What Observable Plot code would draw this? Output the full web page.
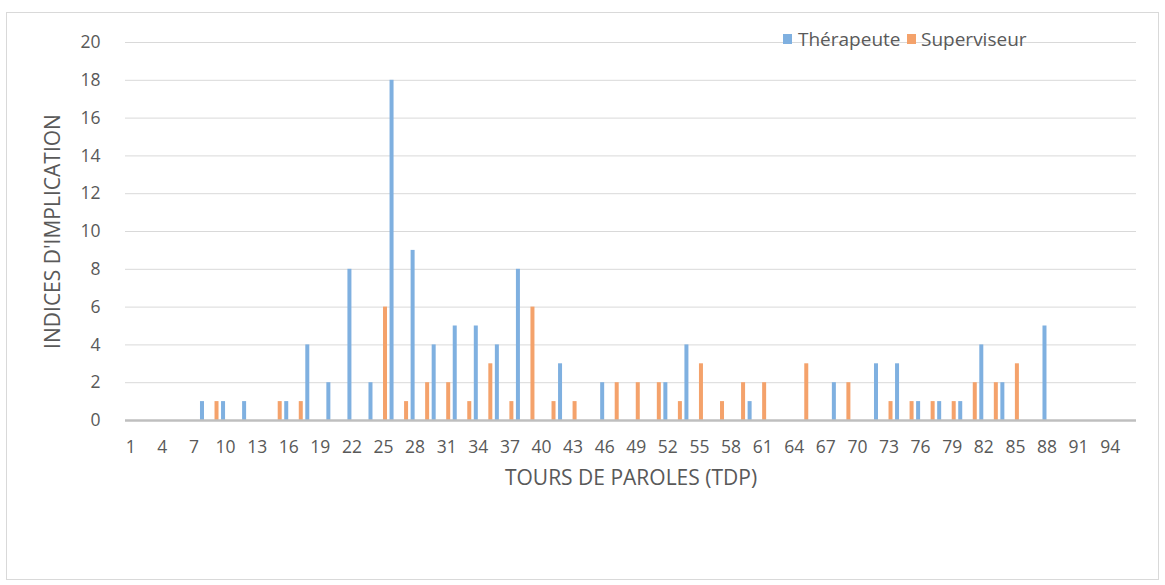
<!DOCTYPE html>
<html><head><meta charset="utf-8">
<script src="https://cdn.jsdelivr.net/npm/d3@7"></script>
<script src="https://cdn.jsdelivr.net/npm/@observablehq/plot@0.6"></script>
<style>
body{margin:0;background:#fff;font-family:"Open Sans",sans-serif;}
#wrap{position:relative;width:1165px;height:585px;overflow:hidden;}
#border{position:absolute;left:6px;top:12px;width:1151px;height:566px;border:1px solid #d9d9d9;pointer-events:none;}
.lg{position:absolute;font-size:19px;color:#595959;line-height:24px;}
.sw{position:absolute;width:9px;height:10px;}
</style>
</head><body>
<div id="wrap">
<div id="border"></div>
<div id="chart"></div>
<div class="sw" style="left:783px;top:34px;background:#7fb0e0"></div>
<div class="lg" style="left:798px;top:27px">Thérapeute</div>
<div class="sw" style="left:907px;top:34px;background:#f4a26b"></div>
<div class="lg" style="left:921px;top:27px">Superviseur</div>
</div>
<script>
const categories = d3.range(1, 97);
const therapeute = [
  0,0,0,0,0,0,0,1,0,1,
  0,1,0,0,0,1,0,4,0,2,
  0,8,0,2,0,18,0,9,0,4,
  0,5,0,5,0,4,0,8,0,0,
  0,3,0,0,0,2,0,0,0,0,
  0,2,0,4,0,0,0,0,0,1,
  0,0,0,0,0,0,0,2,0,0,
  0,3,0,3,0,1,0,1,0,1,
  0,4,0,2,0,0,0,5,0,0,
  0,0,0,0,0,0
];
const superviseur = [
  0,0,0,0,0,0,0,0,1,0,
  0,0,0,0,1,0,1,0,0,0,
  0,0,0,0,6,0,1,0,2,0,
  2,0,1,0,3,0,1,0,6,0,
  1,0,1,0,0,0,2,0,2,0,
  2,0,1,0,3,0,1,0,2,0,
  2,0,0,0,3,0,0,0,2,0,
  0,0,1,0,1,0,1,0,1,0,
  2,0,2,0,3,0,0,0,0,0,
  0,0,0,0,0,0
];
const yTicks = [0,2,4,6,8,10,12,14,16,18,20];
const xTicks = categories.filter(c => (c - 1) % 3 === 0);
const seriesNames = ["Thérapeute", "Superviseur"];
const colors = ["#7fb0e0", "#f4a26b"];

const rowsT = categories.map((c, i) => ({cat: c, value: therapeute[i], series: seriesNames[0]}));
const rowsS = categories.map((c, i) => ({cat: c, value: superviseur[i], series: seriesNames[1]}));

const bw = 4;
const band = (1165 - 125 - 29) / categories.length;
const inset = (band - bw) / 2;

const chart = Plot.plot({
  width: 1165, height: 585,
  marginLeft: 125, marginRight: 29, marginTop: 42, marginBottom: 165,
  style: {fontFamily: "Open Sans, sans-serif", fontSize: "17.5px", color: "#595959", background: "transparent"},
  x: {type: "band", domain: categories, padding: 0},
  y: {domain: [0, 20]},
  marks: [
    Plot.gridY(yTicks.filter(d => d > 0), {stroke: "#d9d9d9", strokeOpacity: 1, strokeWidth: 1}),
    Plot.barY(rowsT.filter(d => d.value > 0), {x: "cat", y: "value", fill: colors[0], insetLeft: inset, insetRight: inset, dx: -bw / 2}),
    Plot.barY(rowsS.filter(d => d.value > 0), {x: "cat", y: "value", fill: colors[1], insetLeft: inset, insetRight: inset, dx: bw / 2}),
    Plot.ruleY([0], {stroke: "#bfbfbf", strokeWidth: 2.5}),
    Plot.axisX(xTicks, {tickSize: 0, tickPadding: 20, label: null, fill: "#595959", fontSize: 17.5}),
    Plot.axisY(yTicks, {tickSize: 0, tickPadding: 25, label: null, fill: "#595959", fontSize: 17.5}),
    Plot.text(["INDICES D'IMPLICATION"], {frameAnchor: "left", dx: -72, rotate: -90, textAnchor: "middle", lineAnchor: "middle", fill: "#595959", fontSize: 21}),
    Plot.text(["TOURS DE PAROLES (TDP)"], {frameAnchor: "bottom", dy: 58, lineAnchor: "middle", fill: "#595959", fontSize: 21})
  ]
});
document.getElementById("chart").appendChild(chart);
</script>
</body></html>
